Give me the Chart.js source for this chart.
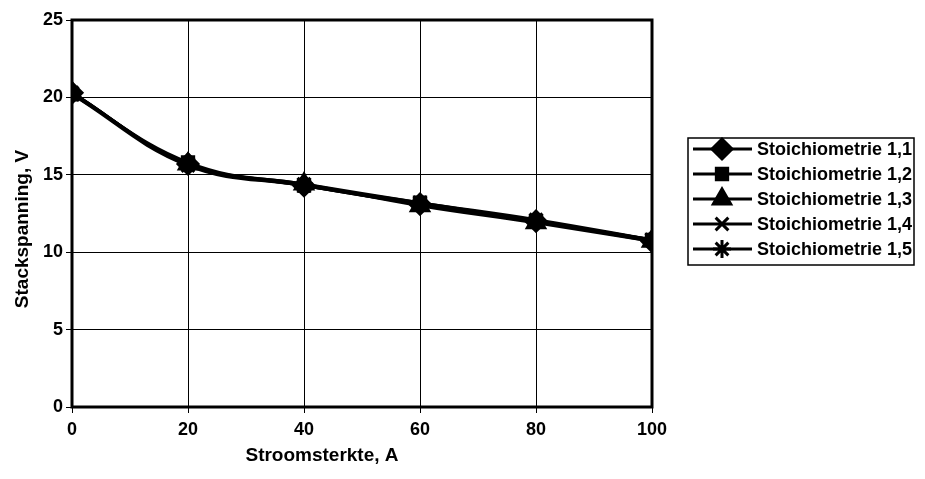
<!DOCTYPE html>
<html>
<head>
<meta charset="utf-8">
<script src="https://cdn.jsdelivr.net/npm/chart.js@4.4.0/dist/chart.umd.min.js"></script>
<style>
  html, body { margin: 0; padding: 0; background: #fff; }
  #wrap { width: 925px; height: 479px; }
</style>
</head>
<body>
<div id="wrap"><canvas id="myChart" width="925" height="479"></canvas></div>
<script>
// Stroomsterkte (A)
const current = [0, 20, 40, 60, 80, 100];
// Stackspanning (V) per stoichiometrie
const stoich11 = [20.3, 15.7, 14.3, 13.1, 12.0, 10.7];
const stoich12 = [20.2, 15.8, 14.3, 13.2, 12.0, 10.8];
const stoich13 = [20.3, 15.7, 14.4, 13.0, 11.9, 10.7];
const stoich14 = [20.2, 15.6, 14.3, 13.1, 12.0, 10.8];
const stoich15 = [20.3, 15.7, 14.4, 13.2, 12.1, 10.8];

const seriesNames = ['Stoichiometrie 1,1', 'Stoichiometrie 1,2', 'Stoichiometrie 1,3',
                     'Stoichiometrie 1,4', 'Stoichiometrie 1,5'];
const seriesValues = [stoich11, stoich12, stoich13, stoich14, stoich15];
const markers = ['rectRot', 'rect', 'triangle', 'crossRot', 'star'];
const markerSize = [10, 8, 10, 9, 9];

const yTicks = [0, 5, 10, 15, 20, 25];
const xTicks = [0, 20, 40, 60, 80, 100];

const xTitle = 'Stroomsterkte, A';
const yTitle = 'Stackspanning, V';

const font = "'Liberation Sans', Arial, sans-serif";

const datasets = seriesNames.map((name, i) => ({
  label: name,
  data: current.map((x, j) => ({ x: x, y: seriesValues[i][j] })),
  borderColor: '#000',
  backgroundColor: '#000',
  borderWidth: 3,
  pointStyle: markers[i],
  pointRadius: markerSize[i],
  pointBorderWidth: 3,
  tension: 0.4,
  fill: false
}));

// frame round the plot area
const framePlugin = {
  id: 'frame',
  beforeDatasetsDraw(chart) {
    const a = chart.chartArea, c = chart.ctx;
    c.save();
    c.strokeStyle = '#000';
    c.lineWidth = 3;
    c.strokeRect(a.left, a.top, a.right - a.left, a.bottom - a.top);
    c.restore();
  }
};

// axis titles, placed like the original (not centred on the axis)
const titlePlugin = {
  id: 'axisTitles',
  afterDraw(chart) {
    const c = chart.ctx;
    c.save();
    c.fillStyle = '#000';
    c.font = 'bold 19px ' + font;
    c.textAlign = 'center';
    c.textBaseline = 'middle';
    c.fillText(xTitle, 322, 456);
    c.translate(23, 229);
    c.rotate(-Math.PI / 2);
    c.fillText(yTitle, 0, 0);
    c.restore();
  }
};

// legend with line + marker, like the original
const legendPlugin = {
  id: 'boxLegend',
  afterDraw(chart) {
    const c = chart.ctx;
    const bx = 688, by = 138, bw = 226, bh = 127;
    c.save();
    c.fillStyle = '#fff';
    c.fillRect(bx, by, bw, bh);
    c.strokeStyle = '#000';
    c.lineWidth = 1.5;
    c.strokeRect(bx, by, bw, bh);
    c.font = 'bold 18px ' + font;
    c.textBaseline = 'middle';
    chart.data.datasets.forEach((ds, i) => {
      const y = by + 11 + i * 25;
      c.strokeStyle = '#000';
      c.lineWidth = 3;
      c.beginPath();
      c.moveTo(bx + 5, y);
      c.lineTo(bx + 64, y);
      c.stroke();
      c.fillStyle = '#000';
      Chart.helpers.drawPoint(c, {
        pointStyle: ds.pointStyle, radius: ds.pointRadius, borderWidth: 3, rotation: 0
      }, bx + 34, y);
      c.fillStyle = '#000';
      c.fillText(ds.label, bx + 69, y + 1);
    });
    c.restore();
  }
};

const ctx = document.getElementById('myChart').getContext('2d');
const chart = new Chart(ctx, {
  type: 'line',
  data: { datasets: datasets },
  plugins: [framePlugin, titlePlugin, legendPlugin],
  options: {
    responsive: false,
    animation: false,
    layout: { padding: { top: 20, right: 273, left: 0, bottom: 0 } },
    plugins: { legend: { display: false }, tooltip: { enabled: false } },
    scales: {
      x: {
        type: 'linear',
        min: 0, max: 100,
        afterBuildTicks: (s) => { s.ticks = xTicks.map(v => ({ value: v })); },
        afterFit: (s) => { s.height = 72; },
        grid: { color: '#000', lineWidth: 1, tickLength: 6, tickColor: '#000' },
        border: { display: false },
        ticks: { color: '#000', font: { family: font, size: 18, weight: 'bold' }, padding: 6, maxRotation: 0 },
        title: { display: false }
      },
      y: {
        min: 0, max: 25,
        afterBuildTicks: (s) => { s.ticks = yTicks.map(v => ({ value: v })); },
        afterFit: (s) => { s.width = 72; },
        grid: { color: '#000', lineWidth: 1, tickLength: 6, tickColor: '#000' },
        border: { display: false },
        ticks: { color: '#000', font: { family: font, size: 18, weight: 'bold' }, padding: 3 },
        title: { display: false }
      }
    }
  }
});
</script>
</body>
</html>
